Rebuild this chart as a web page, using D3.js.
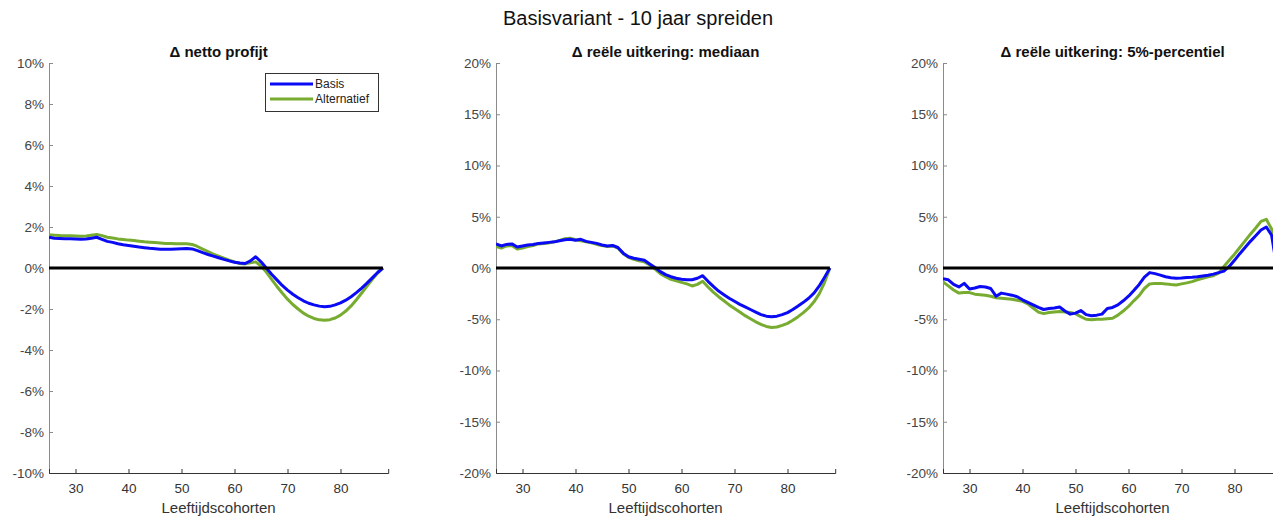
<!DOCTYPE html>
<html><head><meta charset="utf-8">
<script src="https://cdn.jsdelivr.net/npm/d3@7"></script>
<style>body{margin:0;background:#fff}svg{display:block;font-family:"Liberation Sans",Arial,sans-serif}</style>
</head><body><svg id="c" width="1273" height="516"></svg>
<script>
const years = d3.range(25, 89);
const xTicks = [30, 40, 50, 60, 70, 80];
const seriesNames = ["Basis", "Alternatief"];
const panelTitles = ["\u0394 netto profijt", "\u0394 re\u00eble uitkering: mediaan", "\u0394 re\u00eble uitkering: 5%-percentiel"];
const yTicks1 = [-10, -8, -6, -4, -2, 0, 2, 4, 6, 8, 10];
const yTicks23 = [-20, -15, -10, -5, 0, 5, 10, 15, 20];

const nettoBasis = [1.50,1.45,1.44,1.43,1.43,1.42,1.40,1.42,1.45,1.50,1.40,1.30,1.25,1.18,1.13,1.10,1.06,1.02,0.99,0.96,0.94,0.92,0.92,0.92,0.93,0.94,0.95,0.93,0.85,0.75,0.66,0.58,0.50,0.42,0.35,0.28,0.24,0.22,0.35,0.55,0.30,0.00,-0.30,-0.58,-0.85,-1.08,-1.28,-1.45,-1.60,-1.72,-1.80,-1.86,-1.89,-1.87,-1.80,-1.70,-1.57,-1.40,-1.20,-0.98,-0.74,-0.48,-0.22,0.00];
const nettoAlt = [1.62,1.60,1.58,1.57,1.57,1.56,1.55,1.56,1.60,1.64,1.58,1.50,1.46,1.42,1.39,1.36,1.34,1.31,1.28,1.26,1.24,1.22,1.20,1.19,1.18,1.18,1.18,1.15,1.05,0.92,0.80,0.68,0.58,0.48,0.38,0.30,0.22,0.20,0.25,0.30,0.10,-0.20,-0.55,-0.90,-1.22,-1.52,-1.78,-2.00,-2.20,-2.35,-2.46,-2.53,-2.55,-2.52,-2.44,-2.30,-2.10,-1.85,-1.55,-1.22,-0.88,-0.55,-0.25,0.00];
const medBasis = [2.35,2.15,2.30,2.35,2.05,2.15,2.25,2.30,2.40,2.45,2.50,2.55,2.65,2.75,2.80,2.70,2.80,2.60,2.50,2.40,2.25,2.15,2.20,2.00,1.45,1.10,0.95,0.85,0.75,0.40,0.05,-0.35,-0.65,-0.85,-1.00,-1.10,-1.15,-1.15,-1.00,-0.75,-1.30,-1.80,-2.25,-2.60,-2.95,-3.25,-3.55,-3.80,-4.05,-4.30,-4.55,-4.70,-4.75,-4.70,-4.55,-4.35,-4.05,-3.70,-3.35,-2.95,-2.45,-1.75,-0.90,0.00];
const medAlt = [2.10,1.95,2.15,2.20,1.85,1.95,2.10,2.20,2.35,2.40,2.45,2.55,2.70,2.85,2.90,2.75,2.65,2.55,2.45,2.30,2.20,2.10,2.15,1.95,1.40,1.05,0.85,0.70,0.60,0.30,-0.10,-0.55,-0.85,-1.10,-1.25,-1.40,-1.55,-1.75,-1.60,-1.30,-1.85,-2.35,-2.80,-3.20,-3.60,-3.95,-4.30,-4.65,-4.95,-5.25,-5.50,-5.70,-5.80,-5.75,-5.60,-5.40,-5.10,-4.75,-4.35,-3.90,-3.30,-2.50,-1.40,0.00];
const p5Basis = [-1.05,-1.15,-1.60,-1.85,-1.50,-2.05,-1.95,-1.80,-1.85,-2.00,-2.75,-2.45,-2.55,-2.65,-2.80,-3.10,-3.35,-3.60,-3.85,-4.05,-3.95,-3.90,-3.80,-4.20,-4.50,-4.40,-4.15,-4.55,-4.65,-4.60,-4.50,-3.95,-3.85,-3.60,-3.20,-2.75,-2.20,-1.60,-0.90,-0.45,-0.55,-0.70,-0.85,-0.95,-1.00,-0.98,-0.92,-0.90,-0.85,-0.78,-0.70,-0.60,-0.45,-0.30,0.15,0.75,1.40,2.00,2.60,3.15,3.70,4.00,3.20,0.00];
const p5Alt = [-1.35,-1.75,-2.15,-2.45,-2.40,-2.40,-2.55,-2.60,-2.65,-2.75,-2.90,-2.95,-3.00,-3.05,-3.15,-3.25,-3.50,-3.90,-4.30,-4.45,-4.35,-4.30,-4.25,-4.30,-4.35,-4.45,-4.75,-5.00,-5.05,-5.00,-5.00,-4.95,-4.90,-4.60,-4.20,-3.75,-3.20,-2.70,-2.00,-1.55,-1.50,-1.50,-1.55,-1.62,-1.65,-1.55,-1.45,-1.33,-1.15,-1.00,-0.85,-0.75,-0.50,0.15,0.75,1.35,2.00,2.65,3.30,3.90,4.55,4.75,3.80,0.00];

const colors = {Basis: "#0a0af5", Alternatief: "#77ac30"};
const panels = [
  {title: panelTitles[0], left: 49, yDom: [-10, 10], ticks: yTicks1, data: [nettoBasis, nettoAlt], legend: true},
  {title: panelTitles[1], left: 496, yDom: [-20, 20], ticks: yTicks23, data: [medBasis, medAlt]},
  {title: panelTitles[2], left: 943, yDom: [-20, 20], ticks: yTicks23, data: [p5Basis, p5Alt]}
];
const svg = d3.select("#c");
svg.append("text").attr("x", 638).attr("y", 25).attr("text-anchor", "middle")
  .attr("font-size", 20).attr("fill", "#111").text("Basisvariant - 10 jaar spreiden");

const plotTop = 63, plotBottom = 473, pxPerYear = 5.3;
panels.forEach(p => {
  const x = d3.scaleLinear().domain([25, 89]).range([p.left, p.left + 64 * pxPerYear]);
  const y = d3.scaleLinear().domain(p.yDom).range([plotBottom, plotTop]);
  const g = svg.append("g");
  const ya = g.append("g").attr("transform", `translate(${p.left},0)`)
    .call(d3.axisLeft(y).tickValues(p.ticks).tickSize(-4).tickPadding(5).tickFormat(d => d + "%"));
  ya.select(".domain").attr("stroke", "#8a8a8a");
  ya.selectAll(".tick line").attr("stroke", "#8a8a8a");
  ya.selectAll("text").attr("font-size", 13.5).attr("fill", "#444").attr("font-family", "Liberation Sans, Arial, sans-serif");
  const xa = g.append("g").attr("transform", `translate(0,${plotBottom})`)
    .call(d3.axisBottom(x).tickValues(xTicks).tickSize(-4).tickPadding(10));
  xa.select(".domain").attr("stroke", "#333");
  xa.selectAll(".tick line").attr("stroke", "#333");
  xa.selectAll("text").attr("font-size", 13.5).attr("fill", "#333").attr("font-family", "Liberation Sans, Arial, sans-serif");
  g.append("text").attr("x", x(57)).attr("y", 513).attr("text-anchor", "middle")
    .attr("font-size", 15).attr("fill", "#333").text("Leeftijdscohorten");
  g.append("text").attr("x", x(57)).attr("y", 57).attr("text-anchor", "middle")
    .attr("font-size", 15).attr("font-weight", "bold").attr("fill", "#111").text(p.title);
  const clip = "clip" + p.left;
  svg.append("clipPath").attr("id", clip).append("rect")
    .attr("x", p.left).attr("y", plotTop - 5).attr("width", 64 * pxPerYear).attr("height", plotBottom - plotTop + 10);
  const line = d3.line().x((d, i) => x(years[i])).y(d => y(d));
  const pl = g.append("g").attr("clip-path", `url(#${clip})`);
  pl.append("path").datum(p.data[1]).attr("d", line).attr("fill", "none")
    .attr("stroke", colors.Alternatief).attr("stroke-width", 3).attr("stroke-linejoin", "round");
  pl.append("path").datum(p.data[0]).attr("d", line).attr("fill", "none")
    .attr("stroke", colors.Basis).attr("stroke-width", 3).attr("stroke-linejoin", "round");
  pl.append("line").attr("x1", x(25)).attr("x2", x(88)).attr("y1", y(0)).attr("y2", y(0))
    .attr("stroke", "#000").attr("stroke-width", 3);
  if (p.legend) {
    const lg = g.append("g");
    lg.append("rect").attr("x", 265.5).attr("y", 73.5).attr("width", 113).attr("height", 38)
      .attr("fill", "#fff").attr("stroke", "#333").attr("stroke-width", 1);
    seriesNames.forEach((n, i) => {
      const yy = 84 + i * 15;
      lg.append("line").attr("x1", 270).attr("x2", 313).attr("y1", yy).attr("y2", yy)
        .attr("stroke", colors[n]).attr("stroke-width", 3);
      lg.append("text").attr("x", 315).attr("y", yy + 4).attr("font-size", 12).attr("fill", "#222")
        .text(n);
    });
  }
});
</script></body></html>
